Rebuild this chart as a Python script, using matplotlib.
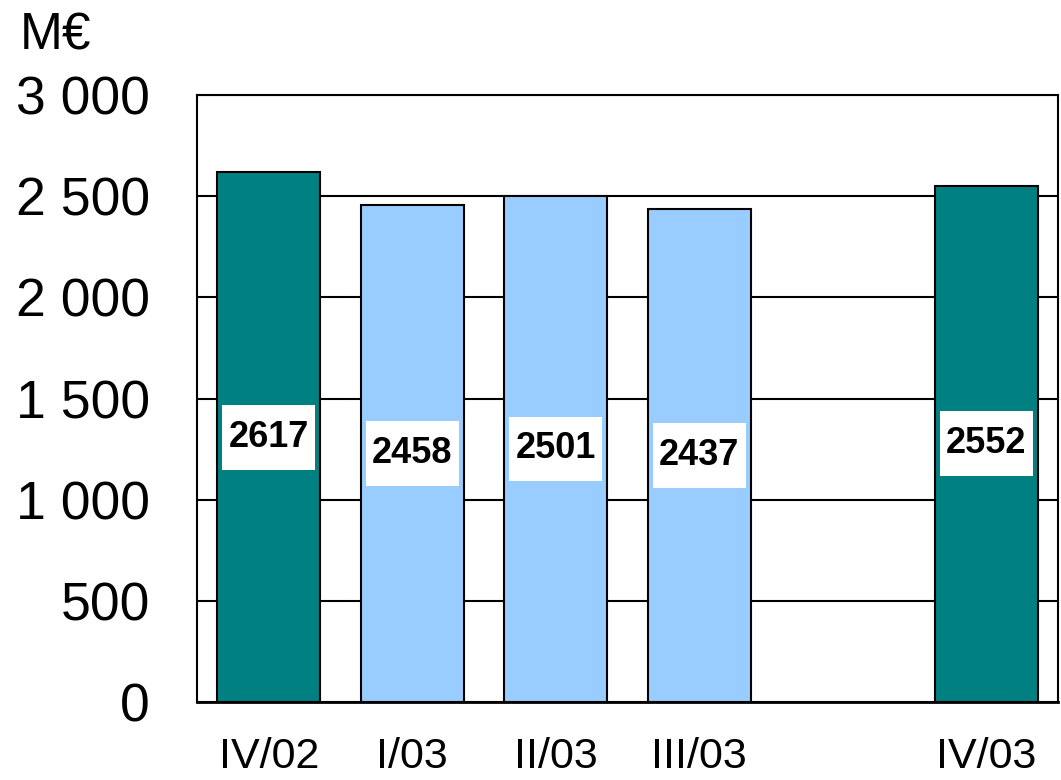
import matplotlib.pyplot as plt
from matplotlib.patches import Rectangle

plt.rcParams['font.family'] = ['Liberation Sans', 'DejaVu Sans']

quarters = ["IV/02", "I/03", "II/03", "III/03", "IV/03"]
positions = [0, 1, 2, 3, 5]
values = [2617, 2458, 2501, 2437, 2552]
colors = ["#008080", "#99CCFF", "#99CCFF", "#99CCFF", "#008080"]
yticks = [0, 500, 1000, 1500, 2000, 2500, 3000]
ytick_labels = ["0", "500", "1 000", "1 500", "2 000", "2 500", "3 000"]

fig = plt.figure(figsize=(10.61, 7.8), dpi=100)
ax = fig.add_axes([0.1857, 0.1, 0.8115, 0.7782])

ax.bar(positions, values, width=0.72, color=colors, edgecolor="black",
       linewidth=1.5, zorder=2)

# white label boxes in the middle of each bar
box_w, box_h = 0.65, 320
for x, v in zip(positions, values):
    ax.add_patch(Rectangle((x - box_w / 2, v / 2 - box_h / 2), box_w, box_h,
                           facecolor="white", edgecolor="none", zorder=3))
    ax.text(x, v / 2, str(v), ha="center", va="center", fontsize=26,
            fontweight="bold", zorder=4)

ax.set_xlim(-0.5, 5.5)
ax.set_ylim(0, 3000)
ax.set_yticks(yticks)
ax.set_yticklabels(ytick_labels, fontsize=38.5)
ax.set_xticks(positions)
ax.set_xticklabels(quarters, fontsize=31)
ax.tick_params(axis="y", length=0, pad=34)
ax.tick_params(axis="x", length=0, pad=25)
ax.grid(axis="y", color="black", linewidth=1.5, zorder=0)
ax.set_axisbelow(True)
for s in ax.spines.values():
    s.set_linewidth(1.5)
ax.spines["bottom"].set_linewidth(2)

fig.text(20 / 1061, 1 - 50 / 780, "M€", fontsize=37, va="baseline", ha="left")

fig.savefig("out.png", dpi=100)
